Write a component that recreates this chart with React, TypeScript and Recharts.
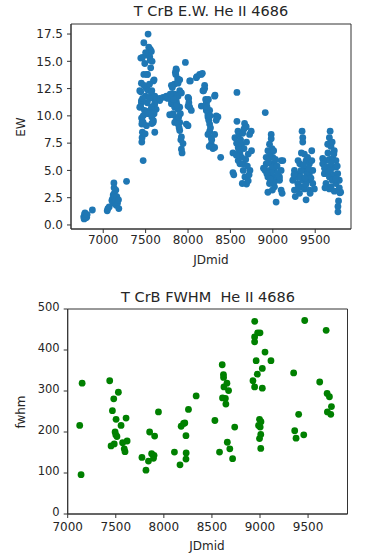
import { ScatterChart, Scatter, XAxis, YAxis, ReferenceArea } from "recharts";

// E.W. of He II 4686, grouped by observing season: [JDmid, EW]
const ewSeason1 = [
  [6770, 0.75], [6775, 0.55], [6780, 1.0], [6785, 1.1], [6790, 0.9], [6795, 0.65],
  [6800, 0.8], [6805, 0.7], [6810, 0.95], [6872, 1.37],
];
const ewSeason2 = [
  [7047, 1.3], [7055, 1.5], [7070, 1.65], [7102, 2.25], [7110, 2.4], [7115, 2.0],
  [7118, 2.75], [7126, 3.85], [7128, 3.4], [7130, 2.9], [7133, 2.1], [7138, 2.5],
  [7145, 2.2], [7149, 3.2], [7153, 1.8], [7160, 2.6], [7168, 2.0], [7180, 2.3],
  [7184, 1.5], [7275, 4.0],
];
const ewSeason3 = [
  [7471, 5.9], [7455, 7.6], [7458, 8.0], [7462, 8.5], [7494, 8.35], [7455, 9.25],
  [7460, 9.5], [7452, 9.8], [7443, 10.8], [7450, 11.2], [7443, 12.2], [7450, 13.0],
  [7462, 15.35], [7443, 15.3], [7479, 16.7], [7529, 17.5], [7537, 16.3], [7555, 16.1],
  [7568, 15.9], [7510, 15.6], [7549, 15.4], [7576, 15.0], [7555, 15.1], [7479, 13.8],
  [7518, 13.8], [7522, 13.8], [7600, 13.3], [7592, 13.2], [7431, 12.3], [7502, 12.6],
  [7522, 12.4], [7568, 12.0], [7573, 12.3], [7588, 11.7], [7451, 11.4], [7431, 10.8],
  [7612, 11.4], [7608, 11.8], [7627, 11.5], [7663, 11.6], [7666, 11.4], [7706, 11.7],
  [7741, 11.7], [7745, 11.8], [7604, 11.0], [7608, 11.1], [7624, 10.6], [7569, 10.8],
  [7529, 10.4], [7568, 10.6], [7555, 10.3], [7533, 10.2], [7471, 10.0], [7529, 10.2],
  [7600, 10.2], [7573, 9.9], [7471, 9.4], [7510, 9.1], [7588, 9.4], [7592, 9.56],
  [7573, 9.3], [7608, 8.5], [7480, 12.8], [7500, 11.8], [7520, 11.2], [7545, 11.6],
  [7490, 14.8], [7500, 15.8], [7465, 11.6], [7487, 10.5], [7545, 12.9], [7560, 14.4],
];
const ewSeason4 = [
  [7969, 14.9], [7859, 14.3], [7863, 14.2], [7851, 14.0], [7855, 13.8], [7878, 13.4],
  [7902, 13.3], [7882, 13.0], [7839, 12.9], [7878, 13.1], [7804, 12.8], [7815, 12.6],
  [7902, 12.3], [7843, 12.0], [7824, 12.0], [7882, 11.8], [7922, 12.1], [7804, 11.4],
  [7863, 11.3], [7804, 11.1], [7843, 10.8], [7902, 10.8], [7882, 10.6], [7824, 10.2],
  [7784, 10.1], [7823, 10.1], [7863, 9.7], [7902, 9.4], [7843, 9.4], [7882, 9.25],
  [7902, 8.66], [7922, 8.07], [7941, 7.46], [7922, 6.95], [7930, 6.6], [7890, 9.9],
  [7870, 11.0], [7850, 11.6], [7910, 10.2], [7895, 8.9], [7915, 7.8], [7760, 11.6],
  [7790, 12.0], [7830, 11.5],
  [8000, 11.7], [8008, 11.6], [8020, 10.8], [8000, 10.9], [8039, 10.5], [8027, 13.2],
  [8020, 13.2], [7980, 9.25], [8000, 9.1], [8010, 11.2],
];
const ewSeason5 = [
  [8098, 13.5], [8105, 13.6], [8137, 13.8], [8157, 13.8], [8169, 13.9], [8176, 12.3],
  [8184, 12.3], [8196, 12.5], [8196, 12.8], [8208, 11.5], [8216, 11.2], [8216, 11.1],
  [8157, 10.9], [8216, 10.6], [8255, 10.5], [8235, 10.1], [8216, 10.5], [8235, 9.9],
  [8255, 9.25], [8255, 8.6], [8235, 8.3], [8274, 8.0], [8274, 7.4], [8294, 7.0],
  [8314, 11.8], [8318, 11.9], [8333, 10.0], [8353, 9.9], [8333, 9.6], [8314, 8.3],
  [8314, 7.1], [8385, 6.2], [8245, 9.6], [8265, 8.9], [8280, 7.8], [8225, 10.8],
  [8250, 7.2], [8260, 10.0], [8240, 11.5],
];
const ewSeason6 = [
  [8577, 12.15], [8577, 9.5], [8589, 8.6], [8667, 9.3], [8686, 9.0], [8745, 8.6],
  [8726, 8.3], [8553, 8.0], [8573, 7.5], [8592, 7.1], [8612, 6.6], [8632, 6.2],
  [8592, 5.9], [8612, 5.6], [8651, 5.0], [8671, 4.4], [8690, 3.75], [8710, 4.05],
  [8530, 6.6], [8530, 4.8], [8730, 5.0], [8651, 5.6], [8632, 7.4], [8710, 6.5],
  [8749, 6.8], [8600, 8.3], [8620, 7.8], [8645, 8.4], [8660, 7.0], [8680, 6.0],
  [8700, 5.4], [8690, 7.6], [8720, 4.6], [8540, 4.6], [8640, 3.8], [8600, 6.9],
  [8660, 8.8], [8570, 6.4],
];
const ewSeason7 = [
  [8911, 10.3], [8981, 8.3], [8981, 7.9], [8961, 7.4], [8942, 6.8], [8922, 6.2],
  [8961, 6.2], [9000, 6.2], [8922, 5.6], [8980, 5.6], [9020, 5.6], [8903, 5.1],
  [8910, 5.0], [8961, 5.0], [9020, 5.0], [8942, 4.4], [9000, 4.4], [9039, 4.1],
  [8961, 3.8], [9020, 3.5], [8942, 3.0], [9039, 2.1], [9098, 5.9], [9098, 5.0],
  [9079, 4.1], [9118, 5.9], [9079, 4.4], [9098, 3.2], [8990, 7.0], [8970, 6.6],
  [9010, 6.8], [8950, 5.8], [9000, 5.3], [8985, 4.8], [8930, 4.7], [9060, 4.7],
  [9050, 5.4], [9010, 3.9], [8970, 4.2], [9110, 2.9], [8890, 5.2], [8995, 3.2],
  [9030, 6.0],
];
const ewSeason8 = [
  [9345, 8.6], [9353, 8.0], [9353, 7.6], [9459, 6.8], [9337, 6.6], [9372, 6.5],
  [9298, 5.9], [9318, 5.6], [9392, 5.9], [9431, 5.6], [9255, 5.0], [9314, 4.7],
  [9372, 5.0], [9431, 4.7], [9471, 5.0], [9235, 4.1], [9294, 3.8], [9353, 4.1],
  [9412, 4.1], [9471, 3.8], [9255, 3.2], [9314, 2.9], [9372, 3.3], [9431, 3.2],
  [9490, 3.3], [9265, 2.6], [9392, 2.3], [9333, 5.0], [9280, 4.4], [9340, 3.5],
  [9400, 4.6], [9420, 5.2], [9450, 4.3], [9360, 5.5], [9300, 3.4], [9390, 3.7],
  [9440, 2.9], [9250, 4.6], [9460, 5.9], [9410, 6.2], [9325, 4.4], [9380, 4.3],
];
const ewSeason9 = [
  [9676, 8.6], [9667, 8.0], [9647, 7.4], [9686, 7.2], [9725, 6.8], [9588, 6.1],
  [9627, 5.9], [9667, 6.0], [9706, 6.1], [9745, 5.9], [9588, 5.6], [9647, 5.3],
  [9706, 5.3], [9745, 5.3], [9608, 4.7], [9667, 4.4], [9725, 4.6], [9765, 4.7],
  [9627, 3.8], [9686, 3.5], [9745, 3.8], [9784, 4.1], [9667, 3.3], [9725, 3.1],
  [9775, 2.2], [9768, 1.7], [9768, 1.2], [9790, 2.95], [9784, 3.4], [9800, 3.0],
  [9650, 6.6], [9690, 5.7], [9700, 4.1], [9610, 5.2], [9740, 4.2], [9660, 4.9],
  [9720, 6.5], [9640, 3.5], [9760, 5.4], [9700, 7.6], [9680, 5.0], [9615, 3.4],
];

// FWHM of He II 4686: [JDmid, fwhm]
const fwhmPoints = [
  [7125, 216], [7139, 96], [7150, 319],
  [7437, 325], [7465, 252], [7479, 281], [7527, 297], [7503, 231], [7607, 234],
  [7555, 216], [7493, 200], [7500, 193], [7512, 189], [7451, 166], [7484, 171],
  [7571, 174], [7618, 178], [7588, 159], [7596, 152],
  [7772, 138], [7814, 107], [7852, 200], [7904, 190], [7840, 129], [7873, 147],
  [7898, 143], [7892, 136], [7944, 249],
  [8110, 151], [8168, 120], [8180, 214], [8205, 221], [8218, 222], [8230, 191],
  [8232, 149], [8230, 134], [8256, 255], [8336, 288],
  [8531, 228], [8579, 151], [8660, 175], [8686, 159], [8715, 135], [8737, 212],
  [8607, 364], [8620, 340], [8621, 333], [8656, 319], [8625, 310], [8673, 301],
  [8610, 283], [8640, 282], [8645, 268],
  [8945, 470], [8975, 442], [9000, 442], [8944, 432], [8944, 420], [9052, 395],
  [8960, 374], [9114, 374], [9024, 355], [8972, 341], [8927, 325], [8944, 310],
  [9024, 307], [8995, 231], [9010, 225], [8985, 216], [9002, 212], [9008, 194],
  [8995, 184], [9008, 160],
  [9350, 344], [9361, 203], [9375, 185], [9402, 243], [9455, 193], [9465, 472],
  [9621, 322], [9688, 448], [9698, 294], [9722, 286], [9743, 262], [9701, 249],
  [9736, 243],
];

const ewTicksX = [7000, 7500, 8000, 8500, 9000, 9500];
const ewTicksY = [0, 2.5, 5, 7.5, 10, 12.5, 15, 17.5];
const fwhmTicksX = [7000, 7500, 8000, 8500, 9000, 9500];
const fwhmTicksY = [0, 100, 200, 300, 400, 500];

const ewData = [
  ...ewSeason1, ...ewSeason2, ...ewSeason3, ...ewSeason4, ...ewSeason5,
  ...ewSeason6, ...ewSeason7, ...ewSeason8, ...ewSeason9,
].map(([jd, ew]) => ({ jd, ew }));
const fwhmData = fwhmPoints.map(([jd, fwhm]) => ({ jd, fwhm }));

const FONT = "'DejaVu Sans', sans-serif";
const INK = "#262626";
const tickStyle = { fontSize: 12, fill: INK, fontFamily: FONT };
const smallTick = { fontSize: 11.5, fill: INK, fontFamily: FONT };

const dot = (color: string) => (p: any) => <circle cx={p.cx} cy={p.cy} r={3.4} fill={color} />;

const textStyle: React.CSSProperties = {
  position: "absolute",
  fontFamily: FONT,
  color: INK,
  whiteSpace: "pre",
  lineHeight: 1,
  transform: "translate(-50%, -50%)",
};

export default function App() {
  const ewX: [number, number] = [6620, 9922];
  const ewY: [number, number] = [-0.37, 18.42];
  const fwX: [number, number] = [7000, 9910];
  const fwY: [number, number] = [0, 500];
  return (
    <div style={{ position: "absolute", left: 0, top: 0, width: 373, height: 559, background: "#fff" }}>
      <div style={{ ...textStyle, left: 211, top: 11, fontSize: 14.5 }}>T CrB E.W. He II 4686</div>
      <div style={{ ...textStyle, left: 211, top: 260, fontSize: 12 }}>JDmid</div>
      <div style={{ ...textStyle, left: 21, top: 127, fontSize: 12, transform: "translate(-50%, -50%) rotate(-90deg)" }}>EW</div>

      <div style={{ position: "absolute", left: 0, top: 0 }}>
        <ScatterChart width={373} height={275} margin={{ top: 24, right: 22, bottom: 0, left: 0 }}>
          <XAxis
            dataKey="jd"
            type="number"
            domain={ewX}
            ticks={ewTicksX}
            allowDataOverflow
            interval={0}
            height={46}
            tickSize={4}
            tickMargin={2}
            tick={tickStyle}
            stroke="#333"
          />
          <YAxis
            dataKey="ew"
            type="number"
            domain={ewY}
            ticks={ewTicksY}
            allowDataOverflow
            interval={0}
            width={71}
            tickSize={4}
            tickMargin={4}
            tick={tickStyle}
            tickFormatter={(v: number) => v.toFixed(1)}
            stroke="#333"
          />
          <ReferenceArea x1={ewX[0]} x2={ewX[1]} y1={ewY[0]} y2={ewY[1]} fill="none" stroke="#333" strokeWidth={1} />
          <Scatter data={ewData} fill="#1f77b4" shape={dot("#1f77b4")} isAnimationActive={false} />
        </ScatterChart>
      </div>

      <div style={{ ...textStyle, left: 208, top: 297, fontSize: 14.5 }}>T CrB FWHM  He II 4686</div>
      <div style={{ ...textStyle, left: 207, top: 546, fontSize: 12 }}>JDmid</div>
      <div style={{ ...textStyle, left: 21, top: 412, fontSize: 12, transform: "translate(-50%, -50%) rotate(-90deg)" }}>fwhm</div>

      <div style={{ position: "absolute", left: 0, top: 285 }}>
        <ScatterChart width={373} height={274} margin={{ top: 24, right: 25.5, bottom: 0, left: 0 }}>
          <XAxis
            dataKey="jd"
            type="number"
            domain={fwX}
            ticks={fwhmTicksX}
            allowDataOverflow
            interval={0}
            height={45}
            tickSize={4}
            tickMargin={4}
            tick={tickStyle}
            stroke="#333"
          />
          <YAxis
            dataKey="fwhm"
            type="number"
            domain={fwY}
            ticks={fwhmTicksY}
            allowDataOverflow
            interval={0}
            width={67.7}
            tickSize={4}
            tickMargin={4}
            tick={{ ...smallTick, dy: -2 }}
            stroke="#333"
          />
          <ReferenceArea x1={fwX[0]} x2={fwX[1]} y1={fwY[0]} y2={fwY[1]} fill="none" stroke="#333" strokeWidth={1} />
          <Scatter data={fwhmData} fill="#008000" shape={dot("#008000")} isAnimationActive={false} />
        </ScatterChart>
      </div>
    </div>
  );
}
